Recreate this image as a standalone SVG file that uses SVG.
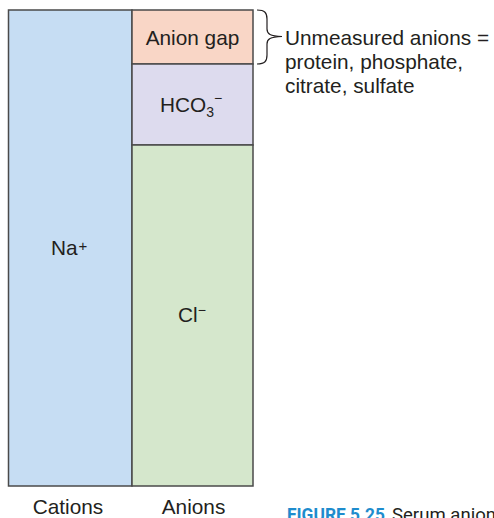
<svg xmlns="http://www.w3.org/2000/svg" width="494" height="518" viewBox="0 0 494 518">
<style>
.box{stroke:#4a4a4a;stroke-width:1.5}
.t{font-family:"Liberation Sans",Arial,sans-serif;font-size:20.8px;fill:#231f20}
.conn{fill:none;stroke:#231f20;stroke-width:1.2}
</style>
<rect width="494" height="518" fill="#ffffff"/>
<g id="cations">
<rect class="box" x="8.5" y="10" width="123.5" height="476" fill="#c6ddf3"/>
<text class="t" x="51" y="255">Na<tspan font-size="15" dx="1" dy="-4">+</tspan></text>
</g>
<g id="anion-gap">
<rect class="box" x="132" y="10" width="121" height="54" fill="#f9d6c6"/>
<text class="t" x="192.5" y="45" text-anchor="middle">Anion gap</text>
</g>
<g id="hco3">
<rect class="box" x="132" y="64" width="121" height="81" fill="#dddbee"/>
<text class="t" x="160" y="112">HCO<tspan font-size="14" dy="5">3</tspan><tspan font-size="14" dy="-14">−</tspan></text>
</g>
<g id="cl">
<rect class="box" x="132" y="145" width="121" height="341" fill="#d5e7cc"/>
<text class="t" x="178" y="322">Cl<tspan font-size="14" dy="-7">−</tspan></text>
</g>
<g id="connectors">
<path class="conn" d="M257,10 C265,10 267,13 267,19 L267,29 C267,34 270,36 282,36.5 C270,37 267,39 267,44 L267,55 C267,61 265,64 257,64"/>
</g>
<g id="note">
<text class="t" x="285" y="45">Unmeasured anions =</text>
<text class="t" x="285" y="69">protein, phosphate,</text>
<text class="t" x="285" y="93">citrate, sulfate</text>
</g>
<g id="labels">
<text class="t" x="68" y="514" text-anchor="middle">Cations</text>
<text class="t" x="193.5" y="514" text-anchor="middle">Anions</text>
<text x="287" y="521" font-family="Roboto,'Liberation Sans',sans-serif" font-size="18" font-weight="bold" fill="#1e8ccd" textLength="98" lengthAdjust="spacingAndGlyphs">FIGURE 5.25</text>
<text x="392" y="521" font-family="Roboto,'Liberation Sans',sans-serif" font-size="18" fill="#231f20" textLength="104" lengthAdjust="spacingAndGlyphs">Serum anion</text>
</g>
</svg>
